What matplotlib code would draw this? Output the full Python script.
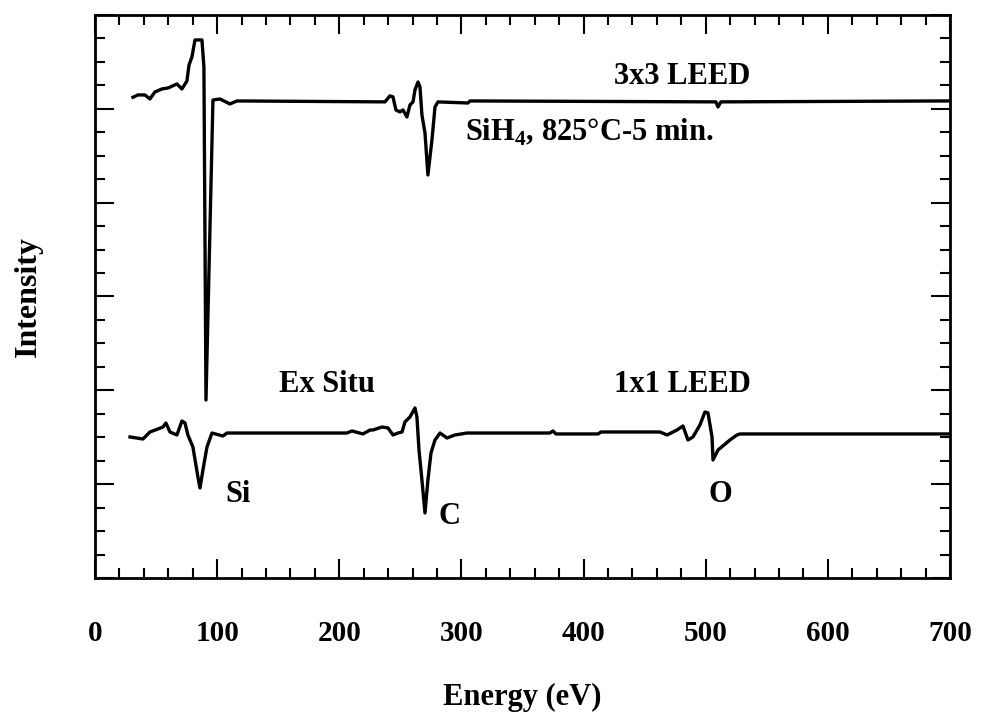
import numpy as np
import matplotlib.pyplot as plt
from matplotlib.ticker import MultipleLocator

plt.rcParams['font.family'] = ['Liberation Serif', 'DejaVu Serif']
plt.rcParams['font.weight'] = 'bold'
plt.rcParams['mathtext.fontset'] = 'custom'
plt.rcParams['mathtext.rm'] = 'Liberation Serif:bold'
plt.rcParams['mathtext.bf'] = 'Liberation Serif:bold'

# 3x3 LEED spectrum (SiH4, 825C - 5 min), shifted up
e_top = [31.1, 35.2, 40.9, 45.0, 49.1, 54.9, 59.8, 67.1, 71.2, 75.3, 77.0, 79.4,
         81.9, 87.6, 89.2, 90.9, 96.6, 102.3, 110.5, 116.3, 237.4, 241.5, 244.0,
         246.4, 249.7, 252.2, 255.4, 257.9, 260.4, 262.0, 264.5, 266.1, 267.7,
         270.2, 272.6, 275.9, 278.4, 280.8, 305.4, 307.0, 508.4, 510.1, 512.5, 698.4]
i_top = [5.123, 5.148, 5.148, 5.105, 5.180, 5.212, 5.222, 5.265, 5.212, 5.297, 5.467, 5.553,
         5.734, 5.734, 5.446, 1.897, 5.094, 5.105, 5.052, 5.084, 5.074, 5.138, 5.127,
         4.988, 4.967, 4.988, 4.913, 5.041, 5.074, 5.201, 5.286, 5.233, 4.934,
         4.743, 4.295, 4.668, 5.020, 5.074, 5.062, 5.084, 5.074, 5.020, 5.074, 5.084]

# ex situ, 1x1 LEED spectrum
e_bot = [28.7, 39.3, 45.0, 51.6, 55.7, 58.1, 61.4, 67.1, 71.2, 73.7, 76.1, 80.2,
         84.3, 86.0, 88.4, 91.7, 95.8, 104.8, 108.1, 206.3, 210.4, 219.4, 225.2,
         227.6, 235.0, 239.9, 244.0, 248.1, 251.4, 253.8, 257.9, 262.0, 263.6,
         265.3, 267.7, 270.2, 272.6, 275.1, 278.4, 282.5, 288.2, 294.7, 304.6,
         372.5, 375.0, 377.4, 411.8, 414.3, 462.6, 468.4, 476.5, 481.4, 485.5,
         489.6, 495.3, 499.4, 501.9, 505.2, 506.0, 510.1, 519.9, 525.6, 528.1, 698.4]
i_bot = [1.503, 1.481, 1.556, 1.588, 1.609, 1.652, 1.556, 1.524, 1.673, 1.652, 1.524, 1.396,
         1.076, 0.959, 1.151, 1.396, 1.545, 1.513, 1.545, 1.545, 1.567, 1.535, 1.577,
         1.577, 1.609, 1.599, 1.524, 1.545, 1.556, 1.663, 1.716, 1.812, 1.716,
         1.364, 1.044, 0.693, 1.044, 1.332, 1.471, 1.545, 1.492, 1.524, 1.545,
         1.545, 1.567, 1.535, 1.535, 1.556, 1.556, 1.524, 1.577, 1.620, 1.471,
         1.503, 1.631, 1.769, 1.759, 1.503, 1.258, 1.364, 1.471, 1.524, 1.535, 1.535]

fig = plt.figure(figsize=(9.84, 7.14), dpi=100)
ax = fig.add_axes([0.0965, 0.1905, 0.8689, 0.7885])

ax.plot(e_top, i_top, color='black', lw=2.4)
ax.plot(e_bot, i_bot, color='black', lw=2.4)

ax.set_xlim(0, 700)
ax.set_ylim(0, 6)
ax.xaxis.set_major_locator(MultipleLocator(100))
ax.xaxis.set_minor_locator(MultipleLocator(20))
ax.yaxis.set_major_locator(MultipleLocator(1))
ax.yaxis.set_minor_locator(MultipleLocator(0.25))
ax.tick_params(which='both', direction='in', top=True, right=True, width=1.5)
ax.tick_params(which='major', length=14)
ax.tick_params(which='minor', length=7)
ax.tick_params(axis='x', labelsize=21, pad=30)
ax.tick_params(axis='y', labelleft=False)
for s in ax.spines.values():
    s.set_linewidth(2)

ax.set_xlabel('Energy (eV)', fontsize=22, fontweight='bold', labelpad=26)
ax.set_ylabel('Intensity', fontsize=23, fontweight='bold', labelpad=34)

fs = 22
ax.text(481, 5.34, '3x3 LEED', fontsize=fs, ha='center', va='center')
ax.text(303, 4.75, r'SiH$_4$, 825°C-5 min.', fontsize=fs, ha='left', va='center')
ax.text(190, 2.06, 'Ex Situ', fontsize=fs, ha='center', va='center')
ax.text(480.6, 2.06, '1x1 LEED', fontsize=fs, ha='center', va='center')
ax.text(117, 0.885, 'Si', fontsize=fs, ha='center', va='center')
ax.text(290.6, 0.65, 'C', fontsize=fs, ha='center', va='center')
ax.text(511.7, 0.885, 'O', fontsize=fs, ha='center', va='center')

fig.savefig('out.png', dpi=100)
